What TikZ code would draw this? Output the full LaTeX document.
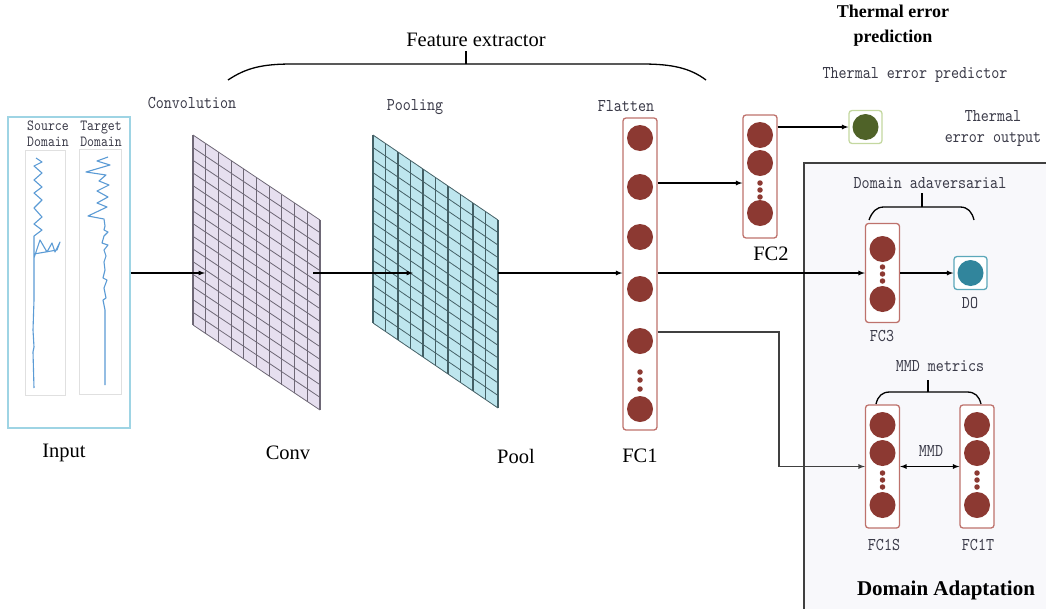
\documentclass[tikz,border=0pt]{standalone}
\usepackage{fontspec}
\setmainfont{Liberation Serif}
\newfontfamily\lblfont{lmmono10-regular.otf}[FakeStretch=0.85]
\usetikzlibrary{calc,positioning}

\definecolor{neuron}{RGB}{140,57,50}
\definecolor{boxred}{RGB}{190,114,108}
\definecolor{convfill}{RGB}{230,223,239}
\definecolor{convline}{RGB}{110,104,118}
\definecolor{poolfill}{RGB}{190,230,238}
\definecolor{poolline}{RGB}{68,96,102}
\definecolor{inputblue}{RGB}{158,212,228}
\definecolor{signal}{RGB}{91,155,213}
\definecolor{outfill}{RGB}{79,98,40}
\definecolor{outedge}{RGB}{196,216,160}
\definecolor{dofill}{RGB}{49,133,156}
\definecolor{doedge}{RGB}{92,168,186}
\definecolor{panelfill}{RGB}{248,248,251}
\definecolor{lbltext}{RGB}{58,58,72}

\begin{document}
\begin{tikzpicture}[x=1pt, y=-1pt, >=latex,
    layer/.style={draw=boxred, line width=1.3pt, fill=white, rounded corners=3pt, minimum width=34pt, inner sep=0pt},
    neuron/.style={circle, fill=neuron, minimum size=26pt, inner sep=0pt},
    ndot/.style={circle, fill=neuron, minimum size=5.5pt, inner sep=0pt},
    outbox/.style={line width=1.3pt, fill=white, rounded corners=3pt, minimum size=33pt, inner sep=0pt},
    mono/.style={font=\lblfont\fontsize{18}{21}\selectfont, text=lbltext, inner sep=0pt, align=center},
    serif/.style={font=\fontsize{20.5}{24}\selectfont, inner sep=0pt},
    heading/.style={font=\bfseries\fontsize{18}{25}\selectfont, inner sep=0pt, align=center},
    conn/.style={->, line width=1.2pt},
    brace/.style={line width=1.3pt}]
  \useasboundingbox (0,0) rectangle (1046,608);

  % Domain adaptation panel
  \begin{scope}
    \clip (0,0) rectangle (1046,608);
    \draw[fill=panelfill, draw=black!75, line width=1.6pt] (804,163) rectangle (1060,620);
  \end{scope}

  % Input signals
  \node[draw=inputblue, line width=1.3pt, minimum width=122pt, minimum height=311pt, inner sep=0pt] (inbox) at (69,272.5) {};
  \node[draw=black!12, fill=white, minimum width=40pt, minimum height=245pt, inner sep=0pt] (src) at (45,272.5) {};
  \node[draw=black!12, fill=white, minimum width=42pt, minimum height=245pt, inner sep=0pt] (tgt) at (100,271.5) {};
  \node[mono, font=\lblfont\fontsize{15.5}{16}\selectfont] (srclbl) at (48,134) {Source\\Domain};
  \node[mono, font=\lblfont\fontsize{15.5}{16}\selectfont] (tgtlbl) at (101,134) {Target\\Domain};
  \draw[signal, line width=1.1pt, line join=round] plot coordinates {
    (36,158) (42,162) (34,166) (42,173) (34,180) (42,187) (34,193) (42,200) (34,208) (42,217)
    (34,224) (42,230) (34,236) (34,258) (40,240) (47,252) (52,243) (55,252) (60,242) (57,250)
    (34,254) (34,300) (33,330) (34,347) (33,352) (34,388)};
  \draw[signal, line width=1.1pt, line join=round] plot coordinates {
    (108,157) (97,161) (110,165) (86,172) (106,175) (99,181) (109,185) (97,191) (108,197)
    (97,203) (107,207) (88,216) (104,219) (105,226) (104,230) (108,232) (104,236) (102,243)
    (108,245) (104,250) (106,256) (104,262) (105,270) (103,278) (107,280) (104,288) (106,298)
    (103,300) (105,310) (105,385)};

  % Convolution grid
  \coordinate (c1) at (193,135);
  \coordinate (c2) at (320,220);
  \coordinate (c3) at (320,410);
  \coordinate (c4) at (193,325);
  \fill[convfill] (c1) -- (c2) -- (c3) -- (c4) -- cycle;
  \foreach \j in {0,...,15}
    \draw[convline, line width=0.8pt] ($(c1)!\j/15!(c4)$) -- ($(c2)!\j/15!(c3)$);
  \foreach \i in {0,...,10}
    \draw[convline, line width=1.1pt] ($(c1)!\i/10!(c2)$) -- ($(c4)!\i/10!(c3)$);

  % Pooling grid
  \coordinate (p1) at (373,135);
  \coordinate (p2) at (498,220);
  \coordinate (p3) at (498,408);
  \coordinate (p4) at (373,323);
  \fill[poolfill] (p1) -- (p2) -- (p3) -- (p4) -- cycle;
  \foreach \j in {0,...,15}
    \draw[poolline, line width=0.8pt] ($(p1)!\j/15!(p4)$) -- ($(p2)!\j/15!(p3)$);
  \foreach \i in {0,...,10}
    \draw[poolline, line width=1.1pt] ($(p1)!\i/10!(p2)$) -- ($(p4)!\i/10!(p3)$);

  % FC1 (flatten)
  \node[layer, minimum height=312pt] (fc1) at (640,274) {};
  \foreach \y [count=\i] in {138,187,237,289,341,409}
    \node[neuron] (fc1-n\i) at (640,\y) {};
  \foreach \y [count=\i] in {372,380,389}
    \node[ndot] (fc1-d\i) at (640,\y) {};

  % FC2
  \node[layer, minimum height=123pt] (fc2) at (760,176.5) {};
  \foreach \y [count=\i] in {135,163,213}
    \node[neuron] (fc2-n\i) at (760,\y) {};
  \foreach \y [count=\i] in {183,190,197}
    \node[ndot] (fc2-d\i) at (760,\y) {};

  % FC3
  \node[layer, minimum height=99pt] (fc3) at (882.5,273) {};
  \foreach \y [count=\i] in {249,299}
    \node[neuron] (fc3-n\i) at (882.5,\y) {};
  \foreach \y [count=\i] in {267,274,281}
    \node[ndot] (fc3-d\i) at (882.5,\y) {};

  % FC1S and FC1T
  \foreach \nm/\x in {fcs/882.5, fct/977} {
    \node[layer, minimum height=123pt] (\nm) at (\x,466.5) {};
    \foreach \y [count=\i] in {425,453,505}
      \node[neuron] (\nm-n\i) at (\x,\y) {};
    \foreach \y [count=\i] in {473,480,487}
      \node[ndot] (\nm-d\i) at (\x,\y) {};
  }

  % Output nodes
  \node[outbox, draw=outedge] (out) at (865.5,127) {};
  \node[neuron, fill=outfill] (out-n) at (out) {};
  \node[outbox, draw=doedge] (do) at (970.5,273) {};
  \node[neuron, fill=dofill] (do-n) at (do) {};

  % Connections
  \coordinate (convin) at (205,273);
  \coordinate (convout) at (313,273);
  \coordinate (poolin) at (413,273);
  \coordinate (poolout) at (498,273);
  \coordinate (tap) at (700,183);
  \coordinate (bend) at (779,332);
  \draw[conn] (inbox.east |- convin) -- (convin);
  \draw[conn] (convout) -- (poolin);
  \draw[conn] (poolout) -- (fc1.west |- poolout);
  \draw[conn] (fc1.east |- tap) -- (fc2.west |- tap);
  \draw[conn] (fc2.east |- out) -- (out.west);
  \draw[conn] (fc1.east |- fc3) -- (fc3.west);
  \draw[conn] (fc3.east) -- (do.west);
  \draw[conn, draw=black!75] (fc1.east |- bend) -- (bend) |- (fcs.west);
  \draw[<->, line width=1.2pt] (fcs.east) -- (fct.west);

  % Braces
  \draw[brace] (228,80) .. controls (246,68) and (262,64) .. (292,64) -- (642,64) .. controls (672,64) and (690,68) .. (706,80);
  \draw[brace] (466,64) -- (466,51);
  \draw[brace] (869,220) .. controls (872,212) and (876,207) .. (884,207) -- (960,207) .. controls (968,207) and (972,212) .. (974,220);
  \draw[brace] (922,207) -- (922,193);
  \draw[brace] (876,404) .. controls (878,396) and (882,392) .. (890,392) -- (967,392) .. controls (975,392) and (979,396) .. (981,404);
  \draw[brace] (928,392) -- (928,380);

  % Labels
  \node[serif] (fe) at (476,40) {Feature extractor};
  \node[mono] (convlbl) at (192,103) {Convolution};
  \node[mono] (poollbl) at (415,107) {Pooling};
  \node[mono] (flatlbl) at (626,106) {Flatten};
  \node[serif] (inlbl) at (64,453) {Input};
  \node[serif] (convname) at (288,453) {Conv};
  \node[serif] (poolname) at (516,456) {Pool};
  \node[serif] (fc1lbl) at (640,456) {FC1};
  \node[serif] (fc2lbl) at (771,254) {FC2};
  \node[heading] (tep) at (893,26) {Thermal error\\prediction};
  \node[mono] (predlbl) at (915,75) {Thermal error predictor};
  \node[mono] (outlbl) at (993,128) {Thermal\\error output};
  \node[mono] (advlbl) at (930,183) {Domain adaversarial};
  \node[mono] (dolbl) at (970,303) {DO};
  \node[mono] (fc3lbl) at (882,336) {FC3};
  \node[mono] (mmdmet) at (940,366) {MMD metrics};
  \node[mono] (mmdlbl) at (931,451) {MMD};
  \node[mono] (fcslbl) at (884,545) {FC1S};
  \node[mono] (fctlbl) at (978,545) {FC1T};
  \node[heading, font=\bfseries\fontsize{21}{25}\selectfont] (dalbl) at (946,590) {Domain Adaptation};
\end{tikzpicture}
\end{document}
